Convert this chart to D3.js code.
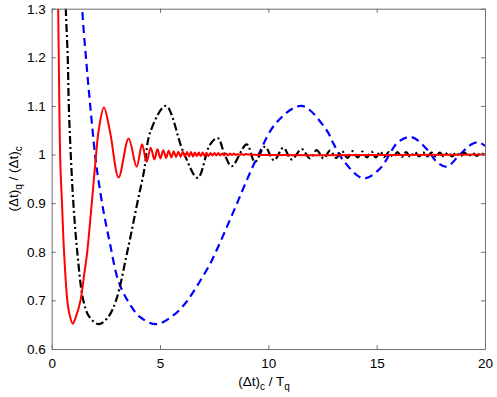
<!DOCTYPE html>
<html>
<head>
<meta charset="utf-8">
<script src="https://cdn.jsdelivr.net/npm/d3@7"></script>
<style>
  body { margin: 0; background: #fff; }
  svg { display: block; font-family: "Liberation Sans", Arial, Helvetica, sans-serif; }
</style>
</head>
<body>
<div id="chart"></div>
<script>
// values: [x, y] pairs
var redCurve = [
  [0.26,1.50],[0.30,1.30],[0.35,1.11],[0.40,0.98],[0.475,0.90],[0.57,0.80],[0.72,0.70],
  [0.82,0.672],[0.97,0.652],[1.13,0.668],[1.33,0.70],[1.49,0.75],[1.64,0.80],[1.85,0.90],
  [2.0,0.975],[2.17,1.05],[2.41,1.097],[2.7,1.045],[3.09,0.953],[3.55,1.033],[3.92,0.975],
  [4.17,1.021],[4.38,0.985],[4.57,1.014],[4.74,0.990],[4.88,1.011],[5.02,0.992],[5.15,1.009],
  [5.28,0.993],[5.40,1.008],[5.52,0.994],[5.63,1.007],[5.74,0.995],[5.85,1.006],[5.95,0.995],
  [6.05,1.006],[6.15,0.996],[6.25,1.005],[6.34,0.996],[6.43,1.005],[6.52,0.996],[6.61,1.004],
  [6.70,0.997],[6.79,1.004],[6.88,0.997],[6.97,1.004],[7.06,0.997],[7.15,1.003],[7.24,0.997],
  [7.33,1.003],[7.42,0.998],[7.51,1.003],[7.60,0.998],[7.69,1.003],[7.78,0.998],[7.87,1.002],
  [7.96,0.998],[8.05,1.002],[8.14,0.998],[8.23,1.002],[8.32,0.999],[8.41,1.002],[8.50,0.999],
  [8.59,1.001],[8.68,0.999],[8.77,1.001],[8.86,0.999],[8.95,1.001],[9.10,1.0],[20,1.0]
];
var blackCurve = [
  [0.60,1.40],[0.65,1.30],[0.74,1.20],[0.79,1.10],[0.88,1.00],[1.0,0.90],[1.18,0.80],
  [1.46,0.70],[1.74,0.666],[2.18,0.651],[2.61,0.666],[2.97,0.70],[3.49,0.80],[3.95,0.90],
  [4.27,0.968],[4.54,1.045],[5.27,1.10],[6.07,1.006],[6.74,0.952],[7.30,1.02],[7.66,1.034],
  [8.0,0.998],[8.31,0.976],[9.0,1.021],[9.38,0.985],[9.84,1.016],[10.26,0.988],[10.69,1.014],
  [11.07,0.990],[11.54,1.011],[11.92,0.992],[12.23,1.009],[12.55,0.992],[12.85,1.008],
  [13.13,0.993],[13.40,1.007],[13.65,0.993],[13.89,1.007],[14.12,0.994],[14.34,1.006],
  [14.55,0.994],[14.76,1.006],[14.96,0.994],[15.16,1.006],[15.36,0.995],[15.56,1.005],
  [15.76,0.995],[15.96,1.005],[16.16,0.995],[16.36,1.005],[16.56,0.995],[16.76,1.005],
  [16.96,0.996],[17.15,1.004],[17.34,0.996],[17.53,1.004],[17.72,0.996],[17.91,1.004],
  [18.10,0.996],[18.29,1.004],[18.48,0.996],[18.67,1.004],[18.86,0.996],[19.05,1.004],
  [19.24,0.997],[19.43,1.003],[19.62,0.997],[19.81,1.003],[20.0,0.998]
];
var blueCurve = [
  [1.36,1.40],[1.41,1.30],[1.58,1.20],[1.78,1.10],[2.0,1.0],[2.1,0.965],[2.38,0.886],
  [2.69,0.817],[3.07,0.741],[3.54,0.697],[4.07,0.666],[4.81,0.651],[5.61,0.669],[6.15,0.693],
  [6.53,0.717],[6.92,0.745],[7.30,0.774],[7.61,0.803],[7.92,0.834],[8.23,0.866],[8.54,0.898],
  [8.84,0.930],[9.46,0.992],[10.38,1.066],[11.54,1.10],[12.69,1.05],[13.0,1.023],[13.46,0.988],
  [14.38,0.951],[15.15,0.971],[16.0,1.026],[16.61,1.036],[17.3,1.012],[17.77,0.985],
  [18.23,0.975],[18.84,1.0],[19.38,1.021],[19.7,1.025],[20.0,1.018]
];
var xTicks = [0, 5, 10, 15, 20];
var yTicks = [0.6, 0.7, 0.8, 0.9, 1.0, 1.1, 1.2, 1.3];

var W = 497, H = 397;
var mLeft = 51.7, mRight = 485, mTop = 8.7, mBottom = 349;

var svg = d3.select("#chart").append("svg")
  .attr("width", W).attr("height", H);

var x = d3.scaleLinear().domain([0, 20]).range([mLeft, mRight]);
var y = d3.scaleLinear().domain([0.6, 1.3]).range([mBottom, mTop]);

svg.append("clipPath").attr("id", "clip")
  .append("rect")
    .attr("x", mLeft).attr("y", mTop)
    .attr("width", mRight - mLeft).attr("height", mBottom - mTop);

var line = d3.line()
  .x(function(d) { return x(d[0]); })
  .y(function(d) { return y(d[1]); })
  .curve(d3.curveCatmullRom.alpha(0.5));

var plot = svg.append("g").attr("clip-path", "url(#clip)");

plot.append("path").datum(blueCurve)
  .attr("fill", "none").attr("stroke", "#0000ff").attr("stroke-width", 2.2)
  .attr("stroke-dasharray", "8,5")
  .attr("d", line);

plot.append("path").datum(blackCurve)
  .attr("fill", "none").attr("stroke", "#000").attr("stroke-width", 2.2)
  .attr("stroke-dasharray", "8,3,2,3")
  .attr("d", line);

plot.append("path").datum(redCurve)
  .attr("fill", "none").attr("stroke", "#ff0000").attr("stroke-width", 2)
  .attr("d", line);

// axes, box style with inward ticks
var axisColor = "#6f6f6f";
function styleAxis(g) {
  g.select(".domain").attr("stroke", axisColor);
  g.selectAll(".tick line").attr("stroke", axisColor);
  g.selectAll(".tick text").attr("fill", "#000").style("font-size", "13.5px");
  g.attr("font-family", null);
}

svg.append("g")
  .attr("transform", "translate(0," + mBottom + ")")
  .call(d3.axisBottom(x).tickValues(xTicks).tickSizeInner(-4).tickSizeOuter(0).tickPadding(9))
  .call(styleAxis);

svg.append("g")
  .attr("transform", "translate(0," + mTop + ")")
  .call(d3.axisTop(x).tickValues(xTicks).tickSizeInner(-4).tickSizeOuter(0).tickFormat(""))
  .call(styleAxis);

svg.append("g")
  .attr("transform", "translate(" + mLeft + ",0)")
  .call(d3.axisLeft(y).tickValues(yTicks).tickSizeInner(-4).tickSizeOuter(0).tickPadding(6)
    .tickFormat(function(d) { return String(+d.toFixed(1)); }))
  .call(styleAxis);

svg.append("g")
  .attr("transform", "translate(" + mRight + ",0)")
  .call(d3.axisRight(y).tickValues(yTicks).tickSizeInner(-4).tickSizeOuter(0).tickFormat(""))
  .call(styleAxis);

// axis labels
var xl = svg.append("text")
  .attr("x", 264).attr("y", 386)
  .attr("text-anchor", "middle")
  .style("font-size", "13.5px");
xl.append("tspan").text("(\u0394t)");
xl.append("tspan").attr("dy", 4).style("font-size", "10px").text("c");
xl.append("tspan").attr("dy", -4).text(" / T");
xl.append("tspan").attr("dy", 4).style("font-size", "10px").text("q");

var yl = svg.append("text")
  .attr("transform", "translate(18," + ((mTop + mBottom) / 2) + ") rotate(-90)")
  .attr("text-anchor", "middle")
  .style("font-size", "13.5px");
yl.append("tspan").text("(\u0394t)");
yl.append("tspan").attr("dy", 4).style("font-size", "10px").text("q");
yl.append("tspan").attr("dy", -4).text(" / (\u0394t)");
yl.append("tspan").attr("dy", 4).style("font-size", "10px").text("c");
</script>
</body>
</html>
